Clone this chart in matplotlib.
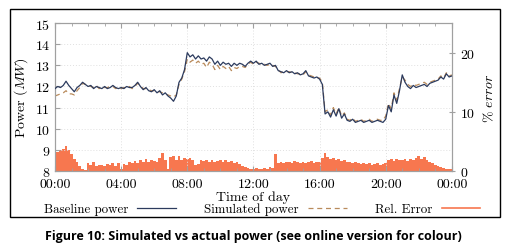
import numpy as np
import matplotlib
matplotlib.use('Agg')
import matplotlib.pyplot as plt
import matplotlib.lines as mlines
from matplotlib.patches import Rectangle
from matplotlib.ticker import MultipleLocator

plt.rcParams['font.family'] = 'cmr10'
plt.rcParams['mathtext.fontset'] = 'cm'
plt.rcParams['axes.formatter.use_mathtext'] = True

# 10 minute samples, 00:00 .. 24:00
hours = np.arange(145) / 6.0

baseline = [
	11.9, 12.0, 11.95, 12.05, 12.25, 12.05,
	11.9, 11.75, 11.95, 12.05, 12.2, 12.1,
	12.0, 12.05, 11.9, 12.0, 11.95, 11.9,
	12.0, 11.9, 11.95, 12.05, 11.95, 11.9,
	11.95, 11.9, 12.0, 11.95, 11.95, 12.05,
	12.2, 12.0, 11.85, 11.95, 11.8, 11.75,
	11.85, 11.7, 11.8, 11.6, 11.7, 11.55,
	11.45, 11.3, 11.55, 12.2, 12.4, 12.8,
	13.6, 13.4, 13.5, 13.3, 13.45, 13.3,
	13.35, 13.2, 13.4, 13.3, 13.05, 13.2,
	13.0, 13.15, 13.05, 13.1, 12.95, 13.1,
	13.0, 13.1, 13.05, 12.95, 13.1, 13.2,
	13.1, 13.2, 13.05, 13.1, 13.0, 13.05,
	13.1, 12.95, 13.0, 12.75, 12.7, 12.65,
	12.75, 12.65, 12.7, 12.6, 12.65, 12.55,
	12.6, 12.75, 12.5, 12.45, 12.4, 12.45,
	12.35, 12.1, 10.7, 10.8, 10.55, 10.9,
	10.6, 10.95, 10.5, 10.7, 10.4, 10.35,
	10.45, 10.3, 10.35, 10.4, 10.3, 10.35,
	10.4, 10.3, 10.35, 10.4, 10.35, 10.3,
	10.45, 11.1, 10.8, 11.6, 11.2, 11.8,
	12.55, 12.2, 12.0, 11.9, 12.05, 11.95,
	12.0, 12.05, 12.1, 12.0, 12.15, 12.2,
	12.25, 12.3, 12.45, 12.35, 12.6, 12.45,
	12.5,
]

simulated = [
	11.55, 11.6, 11.65, 11.7, 11.8, 11.65,
	11.65, 11.6, 11.8, 11.95, 12.15, 12.1,
	12.05, 12.0, 11.95, 12.05, 11.9, 11.95,
	11.95, 11.95, 12.0, 12.0, 11.9, 11.95,
	11.9, 11.95, 11.95, 12.0, 11.9, 12.0,
	12.15, 12.05, 11.9, 11.9, 11.85, 11.8,
	11.8, 11.75, 11.75, 11.7, 11.65, 11.6,
	11.55, 11.5, 11.6, 12.1, 12.35, 12.7,
	13.3, 13.15, 13.25, 13.1, 13.2, 13.05,
	13.1, 12.9, 13.15, 13.05, 12.8, 13.0,
	12.8, 12.95, 12.85, 12.95, 12.75, 12.9,
	12.85, 12.95, 12.95, 12.9, 13.05, 13.15,
	13.05, 13.15, 13.1, 13.05, 13.05, 13.0,
	13.05, 13.0, 12.95, 12.8, 12.65, 12.7,
	12.7, 12.7, 12.65, 12.65, 12.6, 12.6,
	12.55, 12.7, 12.55, 12.5, 12.45, 12.4,
	12.4, 12.2, 10.8, 10.9, 10.65, 11.0,
	10.7, 11.0, 10.6, 10.75, 10.45, 10.4,
	10.5, 10.35, 10.4, 10.45, 10.35, 10.4,
	10.45, 10.35, 10.4, 10.45, 10.4, 10.4,
	10.6, 11.2, 10.95, 11.7, 11.35, 11.9,
	12.45, 12.3, 12.1, 12.0, 12.1, 12.05,
	12.1, 12.15, 12.2, 12.1, 12.2, 12.25,
	12.3, 12.35, 12.5, 12.4, 12.65, 12.5,
	12.55,
]

rel_error = [
	2.9, 3.2, 3.6, 3.8, 4.3, 3.6,
	2.8, 2.0, 1.5, 0.9, 0.4, 0.2,
	1.3, 1.1, 1.5, 0.9, 1.0, 1.1,
	0.8, 1.2, 1.0, 1.3, 0.9, 1.4,
	0.3, 1.2, 1.0, 1.5, 1.3, 1.7,
	1.4, 1.8, 1.5, 2.0, 1.6, 1.9,
	1.7, 1.5, 2.2, 3.0, 1.8, 0.4,
	2.3, 2.6, 1.8, 2.5, 1.9, 2.2,
	2.0, 2.2, 1.9, 1.0, 1.2, 1.8,
	1.7, 1.9, 1.6, 1.8, 1.5, 1.7,
	1.9, 1.6, 1.8, 1.5, 1.7, 1.4,
	1.5, 1.2, 0.9, 0.7, 0.5, 0.4,
	0.3, 0.5, 0.4, 0.3, 0.5, 0.4,
	0.6, 0.5, 2.8, 1.4, 1.6, 1.3,
	1.5, 1.6, 1.4, 1.7, 1.5, 1.3,
	1.6, 1.4, 1.5, 1.7, 1.4, 1.5,
	1.6, 2.2, 3.0, 2.4, 2.1, 2.2,
	1.9, 2.0, 1.7, 1.8, 1.6, 1.5,
	1.4, 1.5, 1.3, 1.2, 1.4, 1.2,
	1.3, 1.1, 1.2, 1.3, 1.0, 1.2,
	1.4, 1.8, 2.0, 1.7, 2.1, 1.9,
	1.8, 2.0, 1.7, 2.1, 1.9, 2.2,
	2.5, 2.0, 2.3, 1.9, 1.5, 1.3,
	1.0, 0.8, 0.6, 0.5, 0.4, 0.3,
	0.3,
]

xtick_hours = [0, 4, 8, 12, 16, 20, 24]
xtick_labels = ["00:00", "04:00", "08:00", "12:00", "16:00", "20:00", "00:00"]

base_col = "#2c3b5e"
sim_col = "#b98b5c"
err_col = "#f7774f"
spine_col = "#a0a0a0"

fig = plt.figure(figsize=(5.06, 2.51), dpi=100)
ax = fig.add_axes([0.1087, 0.3147, 0.7843, 0.5893])
ax2 = ax.twinx()

ax2.fill_between(hours, rel_error, 0, step='mid', color=err_col, lw=0, label="Rel. Error")
ax2.set_ylim(0, 25)
ax2.set_yticks([0, 10, 20])

ax.plot(hours, baseline, color=base_col, lw=0.9, label="Baseline power", zorder=3)
ax.plot(hours, simulated, color=sim_col, lw=0.9, dashes=(4, 3), label="Simulated power", zorder=2)
ax.set_zorder(ax2.get_zorder() + 1)
ax.patch.set_visible(False)

ax.set_xlim(0, 24)
ax.set_ylim(8, 15)
ax.set_xticks(xtick_hours)
ax.set_xticklabels(xtick_labels)
ax.xaxis.set_minor_locator(MultipleLocator(1))
ax.yaxis.set_major_locator(MultipleLocator(1))
ax.grid(True, color="#e0e0e0", ls=(0, (1, 2)), lw=0.7)
ax.tick_params(which='both', direction='in', top=True, labelsize=10, color=spine_col)
ax.tick_params(which='major', length=3.5)
ax.tick_params(which='minor', length=2)
ax.tick_params(axis='x', pad=5)
ax2.tick_params(direction='inout', length=5, labelsize=10, color=spine_col)
for a in (ax, ax2):
	for s in a.spines.values():
		s.set_color(spine_col)
		s.set_linewidth(0.8)

ax.set_xlabel("Time of day", fontsize=10, labelpad=0)
ax.set_ylabel("Power ($MW$)", fontsize=10, labelpad=3)
ax2.set_ylabel(r"$\%\ error$", fontsize=10, labelpad=5)

h1, l1 = ax.get_legend_handles_labels()
h2, l2 = ax2.get_legend_handles_labels()
err_handle = mlines.Line2D([], [], color=err_col, lw=1.2)
fig.legend(h1 + [err_handle], l1 + l2, loc='center', bbox_to_anchor=(0.518, 0.163),
	ncol=3, frameon=False, markerfirst=False, fontsize=9.3, handlelength=3.0,
	columnspacing=2.2, handletextpad=0.7, borderpad=0)

fig.patches.append(Rectangle((0.02, 0.131), 0.968, 0.829, transform=fig.transFigure,
	fill=False, ec='black', lw=1.0))

fig.text(0.5, 0.056, "Figure 10: Simulated vs actual power (see online version for colour)",
	ha='center', va='center', fontsize=9, fontweight='bold', family='Open Sans')

fig.savefig("out.png", dpi=100)
